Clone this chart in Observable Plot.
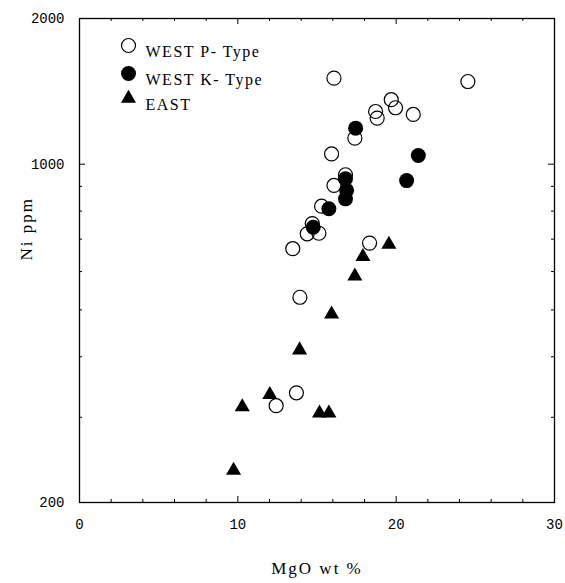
<!DOCTYPE html>
<html><head><meta charset="utf-8">
<script src="https://cdn.jsdelivr.net/npm/d3@7"></script>
<script src="https://cdn.jsdelivr.net/npm/@observablehq/plot@0.6"></script>
<style>
body{margin:0;background:#fff}
</style>
</head><body><div id="chart"></div>
<script>
// WEST P-Type (open circles)
const westP_mgo = [16.07, 24.53, 19.69, 19.96, 18.70, 18.80, 21.08, 17.39, 15.92, 16.80, 16.07, 15.29, 14.70, 14.38, 15.12, 13.47, 18.32, 13.92, 13.70, 12.42];
const westP_ni  = [1506, 1482, 1359, 1308, 1285, 1245, 1267, 1132, 1050, 951, 904, 819, 754, 718, 720, 669, 687, 531, 337, 317];
// WEST K-Type (filled circles)
const westK_mgo = [17.44, 21.40, 20.66, 16.80, 16.87, 16.80, 15.75, 14.76];
const westK_ni  = [1187, 1042, 925, 933, 883, 848, 809, 741];
// EAST (triangles)
const east_mgo = [19.54, 17.90, 17.39, 15.92, 13.90, 12.02, 10.28, 15.16, 15.75, 9.73];
const east_ni  = [683, 644, 587, 490, 413, 334, 315, 306, 306, 233];

const xMajor = [0, 10, 20, 30];
const xMinor = [2, 4, 6, 8, 12, 14, 16, 18, 22, 24, 26, 28];
const xLong = [10, 20];
const yMajor = [200, 1000, 2000];
const yMinor = [300, 400, 500, 600, 700, 800, 900];
const yLong = [1000];
const legendLabels = ["WEST P- Type", "WEST K- Type", "EAST"];
const xTitle = "MgO wt %";
const yTitle = "Ni ppm";

const toRows = (xs, ys) => xs.map((x, i) => ({x, y: ys[i]}));
const westP = toRows(westP_mgo, westP_ni);
const westK = toRows(westK_mgo, westK_ni);
const east = toRows(east_mgo, east_ni);

const W = 565, H = 583, ML = 79, MR = 11, MT = 18, MB = 81;
const PW = W - ML - MR, PH = H - MT - MB;
const serif = "Liberation Serif";
const tick = {stroke: "#000", strokeWidth: 1};

const chart = Plot.plot({
  width: W, height: H,
  marginLeft: ML, marginRight: MR, marginTop: MT, marginBottom: MB,
  x: {domain: [0, 30]},
  y: {type: "log", domain: [200, 2000]},
  style: {fontFamily: "Liberation Mono", fontSize: "14px", color: "#000", background: "#fff"},
  marks: [
    Plot.frame({stroke: "#000", strokeWidth: 1.3}),
    // labelled axes
    Plot.axisX(xMajor, {anchor: "bottom", tickSize: 0, tickPadding: 17, tickFormat: d => String(d), label: null}),
    Plot.axisY(yMajor, {anchor: "left", tickSize: 0, tickPadding: 15, tickFormat: d => String(d), label: null}),
    // inward ticks: bottom / top
    Plot.ruleX(xMinor, {x: d => d, insetTop: PH - 3, ...tick}),
    Plot.ruleX(xLong, {x: d => d, insetTop: PH - 6, ...tick}),
    Plot.ruleX(xMinor, {x: d => d, insetBottom: PH - 3, ...tick}),
    Plot.ruleX(xLong, {x: d => d, insetBottom: PH - 6, ...tick}),
    // inward ticks: left / right
    Plot.ruleY(yMinor, {y: d => d, insetRight: PW - 3, ...tick}),
    Plot.ruleY(yLong, {y: d => d, insetRight: PW - 6, ...tick}),
    Plot.ruleY(yMinor, {y: d => d, insetLeft: PW - 3, ...tick}),
    Plot.ruleY(yLong, {y: d => d, insetLeft: PW - 6, ...tick}),
    // data
    Plot.dot(westP, {x: "x", y: "y", r: 7, stroke: "#000", strokeWidth: 1.2, fill: "none"}),
    Plot.dot(westK, {x: "x", y: "y", r: 7.5, fill: "#000", stroke: "none"}),
    Plot.dot(east, {x: "x", y: "y", r: 5.6, symbol: "triangle", fill: "#000", stroke: "none"}),
    // legend
    Plot.dot([legendLabels[0]], {frameAnchor: "top-left", dx: 49, dy: 27, r: 7, stroke: "#000", strokeWidth: 1.2, fill: "none"}),
    Plot.dot([legendLabels[1]], {frameAnchor: "top-left", dx: 49, dy: 55, r: 7.5, fill: "#000", stroke: "none"}),
    Plot.dot([legendLabels[2]], {frameAnchor: "top-left", dx: 49, dy: 80, r: 5.6, symbol: "triangle", fill: "#000", stroke: "none"}),
    Plot.text([legendLabels[0]], {text: d => d, frameAnchor: "top-left", dx: 66, dy: 27, textAnchor: "start", fontFamily: serif, fontSize: 16}),
    Plot.text([legendLabels[1]], {text: d => d, frameAnchor: "top-left", dx: 66, dy: 55, textAnchor: "start", fontFamily: serif, fontSize: 16}),
    Plot.text([legendLabels[2]], {text: d => d, frameAnchor: "top-left", dx: 66, dy: 80, textAnchor: "start", fontFamily: serif, fontSize: 16}),
    // axis titles
    Plot.text([xTitle], {text: d => d, frameAnchor: "bottom", dy: 71, fontFamily: serif, fontSize: 17}),
    Plot.text([yTitle], {text: d => d, frameAnchor: "left", dx: -53, rotate: -90, fontFamily: serif, fontSize: 17})
  ]
});
d3.select(chart).selectAll("text").each(function() {
  const t = this.textContent;
  if (legendLabels.includes(t)) this.style.letterSpacing = "1.5px";
  if (t === xTitle || t === yTitle) this.style.letterSpacing = "2px";
});
document.getElementById("chart").appendChild(chart);
</script>
</body></html>
